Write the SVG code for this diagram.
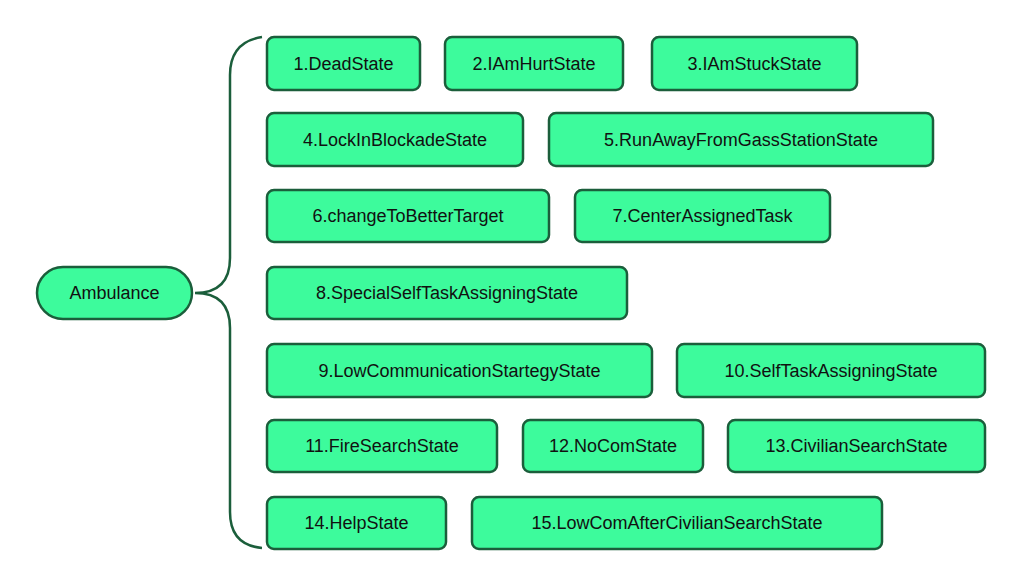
<svg xmlns="http://www.w3.org/2000/svg" width="1017" height="574" viewBox="0 0 1017 574">
<style>
.n{fill:#3dfb9c;stroke:#1b5e3b;stroke-width:2.5}
.t{font-family:"Liberation Sans",Arial,sans-serif;font-size:18px;fill:#111;text-anchor:middle;dominant-baseline:central}
.c{fill:none;stroke:#1b5e3b;stroke-width:2.5}
</style>
<rect width="1017" height="574" fill="#fff"/>
<g id="connectors">
<path class="c" d="M262 37 Q230 42 230 75 V258 Q230 293 195 293 Q230 293 230 328 V512 Q230 545 262 548"/>
</g>
<g id="ambulance"><rect class="n" x="37" y="267" width="155" height="52" rx="26"/><text class="t" x="114.5" y="293">Ambulance</text></g>
<g id="n1"><rect class="n" x="267" y="37" width="153" height="53" rx="7"/><text class="t" x="343.5" y="63.5">1.DeadState</text></g>
<g id="n2"><rect class="n" x="445" y="37" width="178" height="53" rx="7"/><text class="t" x="534" y="63.5">2.IAmHurtState</text></g>
<g id="n3"><rect class="n" x="652" y="37" width="205" height="53" rx="7"/><text class="t" x="754.5" y="63.5">3.IAmStuckState</text></g>
<g id="n4"><rect class="n" x="267" y="113" width="256" height="53" rx="7"/><text class="t" x="395" y="139.5">4.LockInBlockadeState</text></g>
<g id="n5"><rect class="n" x="549" y="113" width="384" height="53" rx="7"/><text class="t" x="741" y="139.5">5.RunAwayFromGassStationState</text></g>
<g id="n6"><rect class="n" x="267" y="190" width="282" height="52" rx="7"/><text class="t" x="408" y="216">6.changeToBetterTarget</text></g>
<g id="n7"><rect class="n" x="575" y="190" width="255" height="52" rx="7"/><text class="t" x="702.5" y="216">7.CenterAssignedTask</text></g>
<g id="n8"><rect class="n" x="267" y="267" width="360" height="52" rx="7"/><text class="t" x="447" y="293">8.SpecialSelfTaskAssigningState</text></g>
<g id="n9"><rect class="n" x="267" y="344" width="385" height="53" rx="7"/><text class="t" x="459.5" y="370.5">9.LowCommunicationStartegyState</text></g>
<g id="n10"><rect class="n" x="677" y="344" width="308" height="53" rx="7"/><text class="t" x="831" y="370.5">10.SelfTaskAssigningState</text></g>
<g id="n11"><rect class="n" x="267" y="420" width="230" height="52" rx="7"/><text class="t" x="382" y="446">11.FireSearchState</text></g>
<g id="n12"><rect class="n" x="523" y="420" width="180" height="52" rx="7"/><text class="t" x="613" y="446">12.NoComState</text></g>
<g id="n13"><rect class="n" x="728" y="420" width="257" height="52" rx="7"/><text class="t" x="856.5" y="446">13.CivilianSearchState</text></g>
<g id="n14"><rect class="n" x="267" y="497" width="179" height="52" rx="7"/><text class="t" x="356.5" y="523">14.HelpState</text></g>
<g id="n15"><rect class="n" x="472" y="497" width="410" height="52" rx="7"/><text class="t" x="677" y="523">15.LowComAfterCivilianSearchState</text></g>
</svg>
